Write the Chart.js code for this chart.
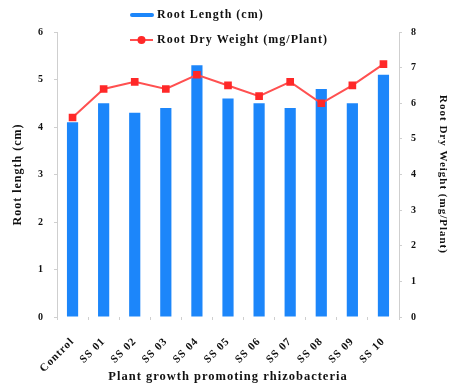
<!DOCTYPE html>
<html>
<head>
<meta charset="utf-8">
<script src="https://cdn.jsdelivr.net/npm/chart.js@4/dist/chart.umd.min.js"></script>
<style>
  html, body { margin: 0; padding: 0; background: #fff; }
  #wrap { width: 449px; height: 385px; position: relative; }
</style>
</head>
<body>
<div id="wrap"><canvas id="c" width="449" height="385"></canvas></div>
<script>
// Treatments (x categories)
const treatments = ['Control', 'SS 01', 'SS 02', 'SS 03', 'SS 04', 'SS 05', 'SS 06', 'SS 07', 'SS 08', 'SS 09', 'SS 10'];
// Root length, cm (bars, left axis)
const rootLength = [4.1, 4.5, 4.3, 4.4, 5.3, 4.6, 4.5, 4.4, 4.8, 4.5, 5.1];
// Root dry weight, mg/plant (line, right axis)
const rootDryWeight = [5.6, 6.4, 6.6, 6.4, 6.8, 6.5, 6.2, 6.6, 6.0, 6.5, 7.1];

const FONT = '"Liberation Serif", "Times New Roman", serif';
const BLUE = 'rgb(28,134,250)';
const RED = 'rgb(255,40,40)';
const LINE_RED = 'rgb(255,80,80)';

// Wide, tracked lettering for all text on the canvas
const trackedText = {
  id: 'trackedText',
  beforeDraw(chart) { chart.ctx.letterSpacing = '1px'; }
};

// Two-row legend drawn above the plot: bar series first, line series below
const stackedLegend = {
  id: 'stackedLegend',
  afterDraw(chart) {
    const ctx = chart.ctx;
    const bar = chart.data.datasets.find(d => d.type === 'bar');
    const line = chart.data.datasets.find(d => d.type === 'line');
    ctx.save();
    ctx.letterSpacing = '1px';
    ctx.font = 'bold 12px ' + FONT;
    ctx.textBaseline = 'middle';
    // bar series swatch
    ctx.strokeStyle = bar.backgroundColor;
    ctx.lineWidth = 4;
    ctx.lineCap = 'round';
    ctx.beginPath(); ctx.moveTo(132, 15); ctx.lineTo(152, 15); ctx.stroke();
    ctx.fillStyle = '#111';
    ctx.fillText(bar.label, 157, 15);
    // line series swatch
    ctx.strokeStyle = line.borderColor;
    ctx.lineWidth = 2;
    ctx.lineCap = 'butt';
    ctx.beginPath(); ctx.moveTo(130, 40); ctx.lineTo(153, 40); ctx.stroke();
    ctx.fillStyle = line.pointBackgroundColor;
    ctx.beginPath(); ctx.arc(141.5, 40, 4, 0, Math.PI * 2); ctx.fill();
    ctx.fillStyle = '#111';
    ctx.fillText(line.label, 157, 40);
    ctx.restore();
  }
};

new Chart(document.getElementById('c'), {
  data: {
    labels: treatments,
    datasets: [
      {
        type: 'line',
        label: 'Root Dry Weight (mg/Plant)',
        data: rootDryWeight,
        yAxisID: 'y1',
        borderColor: LINE_RED,
        borderWidth: 2,
        pointStyle: 'rect',
        pointRadius: 4,
        pointBackgroundColor: RED,
        pointBorderColor: RED,
        tension: 0,
        order: 0
      },
      {
        type: 'bar',
        label: 'Root Length (cm)',
        data: rootLength,
        yAxisID: 'y',
        backgroundColor: BLUE,
        borderWidth: 0,
        barPercentage: 0.36,
        categoryPercentage: 1.0,
        order: 1
      }
    ]
  },
  options: {
    responsive: false,
    animation: false,
    layout: { padding: { top: 32, right: 0, left: 0, bottom: 0 } },
    plugins: { legend: { display: false }, tooltip: { enabled: false } },
    scales: {
      x: {
        offset: true,
        border: { display: false },
        grid: { offset: true, drawOnChartArea: false, drawTicks: true, tickLength: 3, color: '#cfcfcf' },
        ticks: { color: '#111', font: { family: FONT, size: 11, weight: 'bold' }, minRotation: 45, maxRotation: 45, padding: 15 },
        title: { display: true, text: 'Plant growth promoting rhizobacteria', color: '#111', font: { family: FONT, size: 12.5, weight: 'bold' }, padding: { top: 0, bottom: 1 } },
        afterFit(s) { s.height = 68; }
      },
      y: {
        position: 'left',
        min: 0, max: 6,
        border: { display: true, color: '#cfcfcf', width: 1 },
        grid: { drawOnChartArea: false, drawTicks: true, tickLength: 3, color: '#cfcfcf' },
        ticks: { stepSize: 1, color: '#111', font: { family: FONT, size: 10, weight: 'bold' }, padding: 10 },
        title: { display: true, text: 'Root length (cm)', color: '#111', font: { family: FONT, size: 12, weight: 'bold' }, padding: { top: 11, bottom: 0 } },
        afterFit(s) { s.width = 57; }
      },
      y1: {
        position: 'right',
        min: 0, max: 8,
        border: { display: true, color: '#cfcfcf', width: 1 },
        grid: { drawOnChartArea: false, drawTicks: true, tickLength: 3, color: '#cfcfcf' },
        ticks: { stepSize: 1, color: '#111', font: { family: FONT, size: 10, weight: 'bold' }, padding: 9 },
        title: { display: true, text: 'Root Dry Weight (mg/Plant)', color: '#111', font: { family: FONT, size: 11, weight: 'bold' }, padding: { top: 0, bottom: 3 } },
        afterFit(s) { s.width = 50; }
      }
    }
  },
  plugins: [trackedText, stackedLegend]
});
</script>
</body>
</html>
